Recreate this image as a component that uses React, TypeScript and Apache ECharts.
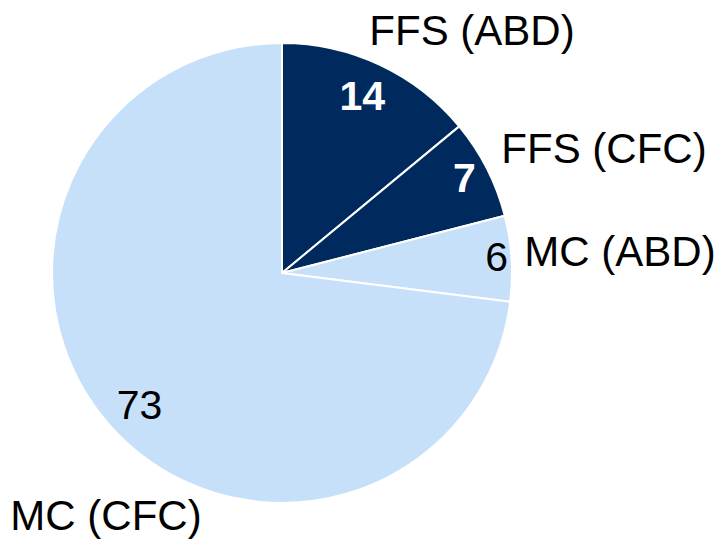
import React, { useEffect, useRef } from "react";
import * as echarts from "echarts";

const categories = ["FFS (ABD)", "FFS (CFC)", "MC (ABD)", "MC (CFC)"];
const values = [14, 7, 6, 73];
const colors = ["#002a5e", "#002a5e", "#c7e0f9", "#c7e0f9"];
const valueLabelColors = ["#ffffff", "#ffffff", "#000000", "#000000"];
const valueLabelWeights = ["bold", "bold", "normal", "normal"];

const FONT = "'Liberation Sans', Arial, sans-serif";

export default function App() {
  const ref = useRef<HTMLDivElement>(null);
  useEffect(() => {
    if (!ref.current) return;
    const chart = echarts.init(ref.current, undefined, { renderer: "svg" });
    const center = [282, 273];
    const labelOffsets = [
      [-4, 2],
      [6, -5],
      [17, -4],
      [6, 1],
    ];
    const namePos = [
      [472, 30],
      [604, 148],
      [620, 251],
      [106, 515],
    ];
    chart.setOption({
      animation: false,
      backgroundColor: "#ffffff",
      series: [
        {
          type: "pie",
          center,
          radius: [0, 230],
          startAngle: 90,
          clockwise: true,
          silent: true,
          label: { show: false },
          labelLine: { show: false },
          itemStyle: { borderColor: "#ffffff", borderWidth: 2 },
          data: values.map((v, i) => ({
            name: categories[i],
            value: v,
            itemStyle: { color: colors[i] },
          })),
        },
        {
          type: "pie",
          center,
          radius: [150, 240],
          startAngle: 90,
          clockwise: true,
          silent: true,
          labelLine: { show: false },
          itemStyle: { color: "transparent", borderWidth: 0 },
          emphasis: { disabled: true },
          data: values.map((v, i) => ({
            name: categories[i],
            value: v,
            label: {
              show: true,
              position: "inside",
              formatter: String(v),
              color: valueLabelColors[i],
              fontWeight: valueLabelWeights[i],
              fontSize: 41,
              fontFamily: FONT,
              offset: labelOffsets[i],
            },
          })),
        },
      ],
      graphic: categories.map((c, i) => ({
        type: "text",
        x: namePos[i][0],
        y: namePos[i][1],
        silent: true,
        style: {
          text: c,
          fill: "#000000",
          font: `42px ${FONT}`,
          textAlign: "center",
          textVerticalAlign: "middle",
        },
      })),
    });
    return () => chart.dispose();
  }, []);
  return (
    <div
      ref={ref}
      style={{ position: "absolute", left: 0, top: 0, width: 720, height: 547 }}
    />
  );
}
